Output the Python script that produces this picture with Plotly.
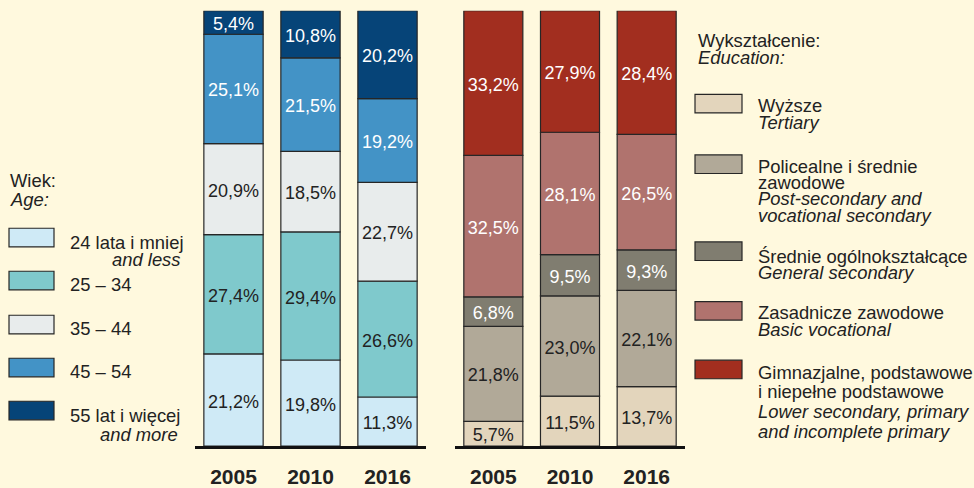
import numpy as np
import plotly.graph_objects as go

W, H = 974, 488
BG = "#FFF9DE"
FONT = "Liberation Sans, Arial, sans-serif"
DARK = "#222222"

years = ["2005", "2010", "2016"]

# Age groups (bottom -> top)
age_names = ["24 lata i mniej", "25 – 34", "35 – 44", "45 – 54", "55 lat i więcej"]
age_24 = [21.2, 19.8, 11.3]
age_25_34 = [27.4, 29.4, 26.6]
age_35_44 = [20.9, 18.5, 22.7]
age_45_54 = [25.1, 21.5, 19.2]
age_55 = [5.4, 10.8, 20.2]
age_colors = ["#CFEAF6", "#7FC9CC", "#E8ECEC", "#4393C6", "#064478"]
age_text = [DARK, DARK, DARK, "#FFFFFF", "#FFFFFF"]

# Education (bottom -> top)
edu_names = ["Wyższe", "Policealne i średnie zawodowe", "Średnie ogólnokształcące",
             "Zasadnicze zawodowe", "Gimnazjalne, podstawowe i niepełne podstawowe"]
edu_tertiary = [5.7, 11.5, 13.7]
edu_postsec = [21.8, 23.0, 22.1]
edu_general = [6.8, 9.5, 9.3]
edu_basic = [32.5, 28.1, 26.5]
edu_lower = [33.2, 27.9, 28.4]
edu_colors = ["#E3D5BC", "#B1A998", "#807D70", "#B0736E", "#A22E1F"]
edu_text = [DARK, DARK, "#FFFFFF", "#FFFFFF", "#FFFFFF"]

age_series = [age_24, age_25_34, age_35_44, age_45_54, age_55]
edu_series = [edu_tertiary, edu_postsec, edu_general, edu_basic, edu_lower]

fig = go.Figure()

LABEL_NUDGE = 0.7  # visual centring of label glyphs (in % units)

def add_stack(series, names, colors, tcolors, xa, ya):
    base = np.zeros(len(years))
    for vals, name, col, tc in zip(series, names, colors, tcolors):
        v = np.array(vals)
        fig.add_trace(go.Bar(
            x=years, y=v, base=base, name=name, xaxis=xa, yaxis=ya,
            width=0.77, marker=dict(color=col, line=dict(color="#262626", width=1.2)),
            showlegend=False, hoverinfo="skip"))
        fig.add_trace(go.Scatter(
            x=years, y=base + v / 2 - LABEL_NUDGE, mode="text", xaxis=xa, yaxis=ya,
            text=[f"{x:.1f}".replace(".", ",") + "%" for x in v],
            textfont=dict(family=FONT, size=18, color=tc),
            textposition="middle center", showlegend=False, hoverinfo="skip"))
        base = base + v

add_stack(age_series, age_names, age_colors, age_text, "x", "y")
add_stack(edu_series, edu_names, edu_colors, edu_text, "x2", "y2")

ydom = [31.5 / H, 1 - 11 / H]
xcommon = dict(type="category", showline=True, linecolor="#111111", linewidth=2.5,
               ticks="", showgrid=False, zeroline=False, range=[-0.5, 2.5],
               tickfont=dict(family=FONT, size=21, color=DARK, weight="bold"),
               ticklabelstandoff=10, fixedrange=True)
ycommon = dict(range=[0, 100], domain=ydom, visible=False, showgrid=False, fixedrange=True)

fig.update_layout(
    width=W, height=H, margin=dict(l=0, r=0, t=0, b=0),
    paper_bgcolor=BG, plot_bgcolor="rgba(0,0,0,0)",
    barmode="overlay",
    xaxis=dict(domain=[195 / W, 426 / W], anchor="y", **xcommon),
    xaxis2=dict(domain=[455 / W, 685 / W], anchor="y2", **xcommon),
    yaxis=dict(anchor="x", **ycommon),
    yaxis2=dict(anchor="x2", **ycommon),
    font=dict(family=FONT, color=DARK),
)

def px(x):
    return x / W

def py(y):
    return 1 - y / H

DY = 4

def text(x, y, s, italic=False, anchor="left"):
    if italic:
        s = f"<i>{s}</i>"
    fig.add_annotation(x=px(x), y=py(y + DY), xref="paper", yref="paper", text=s,
                       showarrow=False, xanchor=anchor, yanchor="middle",
                       font=dict(family=FONT, size=18.4, color=DARK))

def swatch(x0, y0, x1, y1, color):
    fig.add_shape(type="rect", xref="paper", yref="paper",
                  x0=px(x0), x1=px(x1), y0=py(y1), y1=py(y0),
                  fillcolor=color, line=dict(color="#262626", width=1.2))

# Age legend
text(8, 181, "Wiek:")
text(8, 200, "Age:", italic=True)
age_rows = [243, 287, 332, 376, 420]
for yc, col in zip(age_rows, age_colors):
    swatch(9, yc - 9.5, 54, yc + 9.5, col)
text(68, 244, age_names[0])
text(183, 261, "and less", italic=True, anchor="right")
text(68, 287, age_names[1])
text(68, 332, age_names[2])
text(68, 376, age_names[3])
text(68, 421, age_names[4])
text(180, 441, "and more", italic=True, anchor="right")

# Education legend
text(696, 37, "Wykształcenie:")
text(696, 55, "Education:", italic=True)
edu_rows = [106, 168, 257, 318, 378]
for yc, col in zip(edu_rows, edu_colors):
    swatch(695, yc - 9.5, 742, yc + 9.5, col)
TX = 756
text(TX, 104, "Wyższe")
text(TX, 121, "Tertiary", italic=True)
text(TX, 166, "Policealne i średnie")
text(TX, 183, "zawodowe")
text(TX, 199, "Post-secondary and", italic=True)
text(TX, 216, "vocational secondary", italic=True)
text(TX, 258, "Średnie ogólnokształcące")
text(TX, 275, "General secondary", italic=True)
text(TX, 316, "Zasadnicze zawodowe")
text(TX, 333, "Basic vocational", italic=True)
text(TX, 377, "Gimnazjalne, podstawowe")
text(TX, 397, "i niepełne podstawowe")
text(TX, 417, "Lower secondary, primary", italic=True)
text(TX, 437, "and incomplete primary", italic=True)

fig.write_html(
    "out.html",
    config={"displayModeBar": False},
    post_script="document.body.style.margin='0';document.body.style.background='%s';" % BG,
)
